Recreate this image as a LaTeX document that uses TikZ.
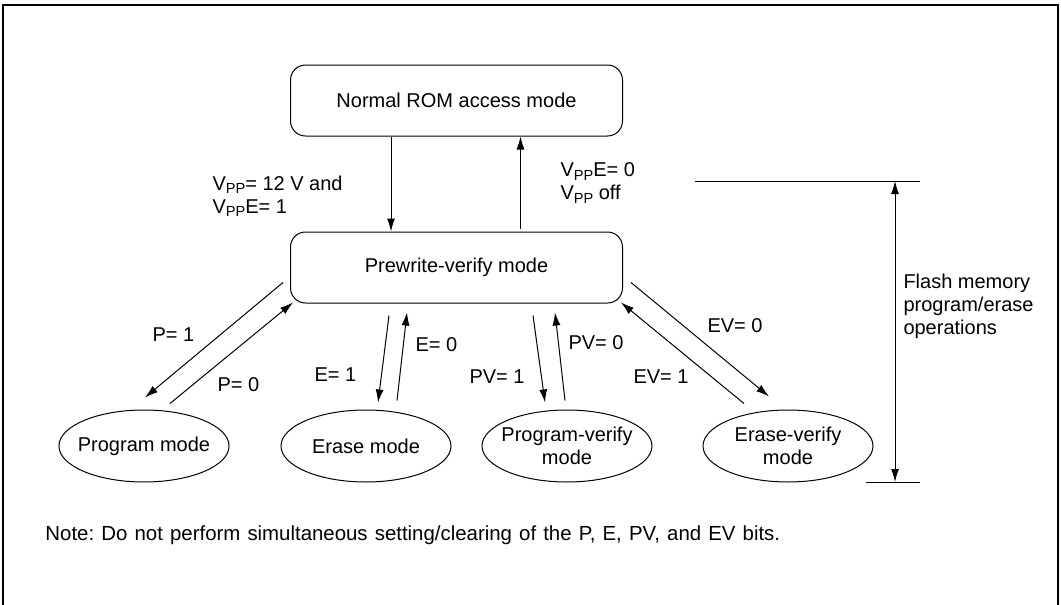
\documentclass[tikz,border=0pt]{standalone}
\usepackage{fontspec}
\setmainfont{Liberation Sans}
\usetikzlibrary{arrows.meta,shapes.geometric}
\frenchspacing
\newcommand{\vpp}{V\raisebox{-0.3ex}{\fontsize{7.3}{8}\selectfont PP}}
\tikzset{
  modebox/.style={draw, rounded corners=7.5pt, minimum width=166pt, minimum height=35.5pt},
  modeoval/.style={draw, ellipse, align=center, inner xsep=-3pt, inner ysep=0pt, minimum width=85pt, minimum height=36pt},
  arr/.style={-{Latex[length=6.5pt,width=4pt]}},
  lbl/.style={anchor=west, align=left, inner sep=0pt}
}
\begin{document}
\begin{tikzpicture}[x=0.5pt, y=-0.5pt, line width=0.5pt, font=\fontsize{10}{11.5}\selectfont]
\useasboundingbox (0,0) rectangle (1061,605);
\draw[line width=1pt] (3,605) -- (3,5) -- (1058,5) -- (1058,605);
% modes
\node[modebox] (rom) at (456.5,100.5) {Normal ROM access mode};
\node[modebox] (pw) at (456.5,267.5) {Prewrite-verify mode};
\node[modeoval] (prog) at (144,446) {Program mode};
\node[modeoval] (erase) at (366,446) {Erase mode};
\node[modeoval] (pver) at (567,446) {Program-verify\\mode};
\node[modeoval] (ever) at (788,446) {Erase-verify\\mode};
% enter / leave
\draw[arr] ([shift={(-65.5,0)}]rom.south) -- ([shift={(-65.5,0)}]pw.north);
\draw[arr] ([shift={(64,-3)}]pw.north) -- ([shift={(64,0)}]rom.south);
\node[lbl] (vin) at (212,196) {\vpp= 12 V and\\\vpp E= 1};
\node[lbl] (vout) at (560,183) {\vpp E= 0\\\vpp{} off};
% program
\draw[arr] ([shift={(-7,-21)}]pw.south west) -- ([shift={(1,-12)}]prog.north);
\draw[arr] ([shift={(26,-6)}]prog.north) -- ([shift={(3,-1)}]pw.south west);
\node[lbl] (p1) at (152,335) {P= 1};
\node[lbl] (p0) at (217,385) {P= 0};
% erase
\draw[arr] ([shift={(-67.5,12)}]pw.south) -- ([shift={(12,-7)}]erase.north);
\draw[arr] ([shift={(31,-9)}]erase.north) -- ([shift={(-49.5,9)}]pw.south);
\node[lbl] (e1) at (314,375) {E= 1};
\node[lbl] (e0) at (415,345) {E= 0};
% program-verify
\draw[arr] ([shift={(76.5,12)}]pw.south) -- ([shift={(-22,-7)}]pver.north);
\draw[arr] ([shift={(-2,-9)}]pver.north) -- ([shift={(98.5,9)}]pw.south);
\node[lbl] (pv1) at (469,377) {PV= 1};
\node[lbl] (pv0) at (568,343) {PV= 0};
% erase-verify
\draw[arr] ([shift={(8,-21)}]pw.south east) -- ([shift={(-19,-13)}]ever.north);
\draw[arr] ([shift={(-44,-6)}]ever.north) -- ([shift={(-2,-1)}]pw.south east);
\node[lbl] (ev0) at (707,326) {EV= 0};
\node[lbl] (ev1) at (633,377) {EV= 1};
% range of flash operations
\coordinate (ftop) at (895,181);
\coordinate (fbot) at (895,482);
\draw (695,181) -- (920,181);
\draw (866,482) -- (920,482);
\draw[{Latex[length=6.5pt,width=4pt]}-{Latex[length=6.5pt,width=4pt]}] (ftop) -- (fbot);
\node[lbl] (flash) at (903,306) {Flash memory\\program/erase\\operations};
\node[lbl, font=\fontsize{10.2}{11.5}\selectfont] (note) at (45,535) {\spaceskip=0.35em\relax Note: Do not perform simultaneous setting/clearing of the P, E, PV, and EV bits.};
\end{tikzpicture}
\end{document}
